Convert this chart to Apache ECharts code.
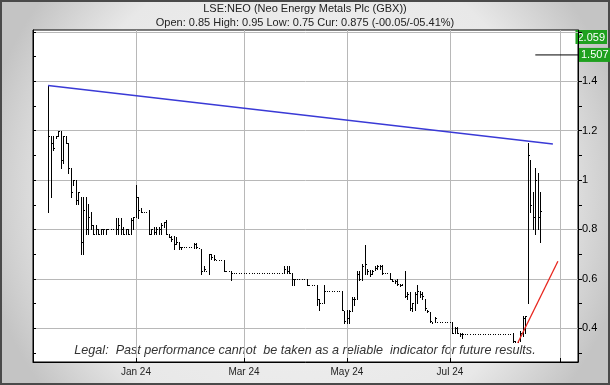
<!DOCTYPE html>
<html>
<head>
<meta charset="utf-8">
<script src="https://cdn.jsdelivr.net/npm/echarts@6/dist/echarts.min.js"></script>
<style>
html, body { margin: 0; padding: 0; background: #fff; }
#chart { width: 610px; height: 385px; }
</style>
</head>
<body>
<div id="chart"></div>
<script>
// trading days on the x axis (weekdays, UK holidays skipped)
const firstDay = '2023-11-01'
const dayCount = 218
const holidays = ['2023-12-25', '2023-12-26', '2024-01-01', '2024-03-29', '2024-04-01', '2024-05-06', '2024-05-27', '2024-08-26']
const monthNames = ['Jan', 'Feb', 'Mar', 'Apr', 'May', 'Jun', 'Jul', 'Aug', 'Sep', 'Oct', 'Nov', 'Dec']
const gridMonths = [1, 3, 5, 7, 9, 11]
const labelMonths = [1, 3, 5, 7]

// daily OHLC, first bar sits on trading day index 6
const firstBar = 6
const opens = [
  0.95, 1.10, 1.15, 1.18, 1.18, 1.20, 1.08, 1.18, 1.15, 1.05,
  0.98, 1.00, 0.92, 0.93, 0.75, 0.88, 0.80, 0.85, 0.82, 0.78,
  0.80, 0.78, 0.80, 0.80, 0.80, 0.80, 0.80, 0.80, 0.80, 0.82,
  0.80, 0.78, 0.80, 0.78, 0.84, 0.85, 0.93, 0.88, 0.87, 0.87,
  0.87, 0.78, 0.80, 0.79, 0.80, 0.80, 0.82, 0.83, 0.78, 0.77,
  0.76, 0.74, 0.75, 0.73, 0.73, 0.73, 0.73, 0.73, 0.73, 0.74,
  0.725, 0.72, 0.63, 0.63, 0.63, 0.70, 0.69, 0.675, 0.675, 0.675,
  0.675, 0.63, 0.63, 0.63, 0.625, 0.625, 0.625, 0.625, 0.625, 0.625,
  0.625, 0.625, 0.625, 0.625, 0.625, 0.625, 0.625, 0.625, 0.625, 0.625,
  0.625, 0.625, 0.625, 0.625, 0.625, 0.64, 0.63, 0.625, 0.60, 0.60,
  0.60, 0.60, 0.60, 0.60, 0.575, 0.575, 0.575, 0.575, 0.52, 0.50,
  0.50, 0.55, 0.55, 0.55, 0.55, 0.55, 0.55, 0.55, 0.47, 0.43,
  0.44, 0.47, 0.52, 0.52, 0.62, 0.60, 0.65, 0.64, 0.63, 0.62,
  0.635, 0.645, 0.65, 0.65, 0.625, 0.625, 0.625, 0.60, 0.59, 0.59,
  0.58, 0.575, 0.58, 0.53, 0.54, 0.48, 0.50, 0.54, 0.55, 0.54,
  0.52, 0.47, 0.465, 0.425, 0.43, 0.425, 0.425, 0.425, 0.425, 0.425,
  0.425, 0.425, 0.38, 0.40, 0.375, 0.375, 0.375, 0.375, 0.375, 0.375,
  0.375, 0.375, 0.375, 0.375, 0.375, 0.375, 0.375, 0.375, 0.375, 0.375,
  0.375, 0.375, 0.375, 0.375, 0.375, 0.375, 0.35, 0.345, 0.36, 0.38,
  0.44, 0.50, 1.05, 0.90, 0.85, 1.00, 0.85
]
const highs = [
  1.38, 1.18, 1.18, 1.18, 1.20, 1.20, 1.18, 1.18, 1.15, 1.05,
  1.00, 1.00, 0.95, 0.93, 0.93, 0.93, 0.905, 0.87, 0.82, 0.82,
  0.80, 0.80, 0.80, 0.80, 0.80, 0.80, 0.80, 0.845, 0.845, 0.845,
  0.81, 0.80, 0.80, 0.845, 0.85, 0.98, 0.93, 0.885, 0.87, 0.87,
  0.88, 0.80, 0.81, 0.81, 0.81, 0.825, 0.83, 0.84, 0.78, 0.775,
  0.775, 0.77, 0.75, 0.73, 0.73, 0.73, 0.73, 0.73, 0.745, 0.745,
  0.725, 0.72, 0.65, 0.63, 0.70, 0.70, 0.695, 0.675, 0.675, 0.675,
  0.675, 0.63, 0.63, 0.63, 0.625, 0.625, 0.625, 0.625, 0.625, 0.625,
  0.625, 0.625, 0.625, 0.625, 0.625, 0.625, 0.625, 0.625, 0.625, 0.625,
  0.625, 0.625, 0.625, 0.625, 0.65, 0.65, 0.65, 0.625, 0.60, 0.60,
  0.60, 0.60, 0.60, 0.60, 0.575, 0.575, 0.575, 0.575, 0.52, 0.50,
  0.575, 0.55, 0.55, 0.55, 0.55, 0.55, 0.55, 0.55, 0.47, 0.475,
  0.475, 0.525, 0.525, 0.63, 0.63, 0.66, 0.735, 0.64, 0.635, 0.635,
  0.65, 0.655, 0.655, 0.655, 0.625, 0.625, 0.625, 0.60, 0.595, 0.60,
  0.58, 0.58, 0.63, 0.545, 0.545, 0.50, 0.545, 0.575, 0.55, 0.545,
  0.52, 0.475, 0.465, 0.425, 0.445, 0.425, 0.425, 0.425, 0.425, 0.425,
  0.425, 0.425, 0.405, 0.405, 0.38, 0.38, 0.375, 0.375, 0.375, 0.375,
  0.375, 0.375, 0.375, 0.375, 0.375, 0.375, 0.375, 0.375, 0.375, 0.375,
  0.375, 0.375, 0.375, 0.375, 0.375, 0.38, 0.35, 0.35, 0.39, 0.45,
  0.45, 1.15, 1.08, 0.95, 1.05, 1.03, 0.95
]
const lows = [
  0.87, 0.93, 1.12, 1.17, 1.18, 1.05, 1.07, 1.15, 1.03, 0.93,
  0.98, 0.905, 0.905, 0.70, 0.70, 0.78, 0.78, 0.80, 0.78, 0.78,
  0.78, 0.78, 0.78, 0.78, 0.80, 0.80, 0.80, 0.78, 0.78, 0.78,
  0.78, 0.78, 0.78, 0.78, 0.80, 0.85, 0.845, 0.87, 0.87, 0.87,
  0.78, 0.78, 0.78, 0.78, 0.78, 0.78, 0.81, 0.78, 0.77, 0.755,
  0.72, 0.74, 0.72, 0.72, 0.73, 0.73, 0.73, 0.73, 0.725, 0.725,
  0.725, 0.62, 0.63, 0.63, 0.62, 0.68, 0.675, 0.675, 0.675, 0.675,
  0.63, 0.63, 0.63, 0.595, 0.625, 0.625, 0.625, 0.625, 0.625, 0.625,
  0.625, 0.625, 0.625, 0.625, 0.625, 0.625, 0.625, 0.625, 0.625, 0.625,
  0.625, 0.625, 0.625, 0.625, 0.625, 0.625, 0.625, 0.575, 0.575, 0.60,
  0.60, 0.60, 0.60, 0.575, 0.575, 0.575, 0.575, 0.495, 0.475, 0.50,
  0.50, 0.55, 0.55, 0.55, 0.55, 0.55, 0.55, 0.475, 0.42, 0.42,
  0.42, 0.47, 0.495, 0.52, 0.595, 0.595, 0.62, 0.62, 0.61, 0.62,
  0.635, 0.64, 0.64, 0.62, 0.625, 0.625, 0.60, 0.59, 0.585, 0.575,
  0.57, 0.575, 0.525, 0.52, 0.475, 0.47, 0.475, 0.50, 0.525, 0.52,
  0.475, 0.465, 0.425, 0.42, 0.425, 0.425, 0.425, 0.425, 0.425, 0.425,
  0.425, 0.38, 0.38, 0.38, 0.37, 0.36, 0.375, 0.375, 0.375, 0.375,
  0.375, 0.375, 0.375, 0.375, 0.375, 0.375, 0.375, 0.375, 0.375, 0.375,
  0.375, 0.375, 0.375, 0.375, 0.375, 0.345, 0.345, 0.345, 0.35, 0.37,
  0.38, 0.50, 0.87, 0.80, 0.78, 0.80, 0.75
]
const closes = [
  1.18, 1.15, 1.13, 1.18, 1.20, 1.08, 1.18, 1.15, 1.05, 0.95,
  1.00, 0.92, 0.95, 0.75, 0.88, 0.80, 0.85, 0.82, 0.78, 0.80,
  0.78, 0.80, 0.80, 0.80, 0.80, 0.80, 0.80, 0.80, 0.82, 0.80,
  0.78, 0.80, 0.78, 0.84, 0.85, 0.93, 0.88, 0.87, 0.87, 0.87,
  0.78, 0.80, 0.79, 0.80, 0.80, 0.82, 0.83, 0.78, 0.77, 0.76,
  0.74, 0.75, 0.73, 0.73, 0.73, 0.73, 0.73, 0.73, 0.74, 0.73,
  0.725, 0.63, 0.64, 0.63, 0.70, 0.69, 0.68, 0.675, 0.675, 0.675,
  0.63, 0.63, 0.63, 0.625, 0.625, 0.625, 0.625, 0.625, 0.625, 0.625,
  0.625, 0.625, 0.625, 0.625, 0.625, 0.625, 0.625, 0.625, 0.625, 0.625,
  0.625, 0.625, 0.625, 0.625, 0.64, 0.63, 0.625, 0.60, 0.60, 0.60,
  0.60, 0.60, 0.60, 0.575, 0.575, 0.575, 0.575, 0.52, 0.50, 0.50,
  0.55, 0.55, 0.55, 0.55, 0.55, 0.55, 0.55, 0.475, 0.43, 0.44,
  0.47, 0.52, 0.52, 0.62, 0.60, 0.65, 0.66, 0.63, 0.62, 0.63,
  0.645, 0.65, 0.65, 0.625, 0.625, 0.625, 0.60, 0.59, 0.59, 0.58,
  0.575, 0.58, 0.53, 0.54, 0.48, 0.50, 0.54, 0.55, 0.54, 0.53,
  0.48, 0.47, 0.43, 0.42, 0.44, 0.425, 0.425, 0.425, 0.425, 0.425,
  0.425, 0.38, 0.40, 0.38, 0.375, 0.375, 0.375, 0.375, 0.375, 0.375,
  0.375, 0.375, 0.375, 0.375, 0.375, 0.375, 0.375, 0.375, 0.375, 0.375,
  0.375, 0.375, 0.375, 0.375, 0.375, 0.35, 0.345, 0.35, 0.38, 0.44,
  0.45, 1.10, 0.90, 0.85, 1.00, 0.85, 0.875
]

// drawn lines and markers: [day index, price]
const trendDown = [[6, 1.383], [207, 1.146]]
const trendUp = [[193, 0.34], [209, 0.671]]
const target1 = [[200, 1.507], [217, 1.507]]
const target2 = 2.059
const lastPrice = 0.875

const yMin = 0.263
const yMax = 1.608
const yTicks = [0.3, 0.4, 0.5, 0.6, 0.7, 0.8, 0.9, 1, 1.1, 1.2, 1.3, 1.4, 1.5, 1.6]
const yLabels = [0.4, 0.6, 0.8, 1, 1.2, 1.4]

const days = []
const d = new Date(firstDay + 'T00:00:00Z')
while (days.length < dayCount) {
  const s = d.toISOString().slice(0, 10)
  const wd = d.getUTCDay()
  if (wd !== 0 && wd !== 6 && holidays.indexOf(s) < 0) days.push(s)
  d.setUTCDate(d.getUTCDate() + 1)
}

function monthStart(i) {
  return i === 0 || days[i].slice(0, 7) !== days[i - 1].slice(0, 7)
}
function monthOf(i) {
  return +days[i].slice(5, 7)
}
const isGrid = (i) => monthStart(i) && gridMonths.indexOf(monthOf(i)) >= 0
const isLabel = (i) => monthStart(i) && labelMonths.indexOf(monthOf(i)) >= 0

const bars = closes.map((c, i) => [firstBar + i, opens[i], highs[i], lows[i], c])

// hi-lo stick with a close tick; a day with no range is a single dot
function renderBar(params, api) {
  const x = Math.round(api.coord([api.value(0), 0])[0])
  const yh = Math.round(api.coord([0, api.value(2)])[1])
  const yl = Math.round(api.coord([0, api.value(3)])[1])
  const yc = Math.round(api.coord([0, api.value(4)])[1])
  const style = { fill: '#000' }
  const children = [
    { type: 'rect', shape: { x: x, y: yh, width: 1, height: yl - yh + 1 }, style: style }
  ]
  if (yl - yh > 1) {
    children.push({ type: 'rect', shape: { x: x + 1, y: yc, width: 1, height: 1 }, style: style })
  }
  return { type: 'group', children: children }
}

const font = '"Liberation Sans", Arial, sans-serif'
const chart = echarts.init(document.getElementById('chart'))

chart.setOption({
  animation: false,
  backgroundColor: {
    type: 'radial', x: 0.5, y: 0.5, r: 0.85,
    colorStops: [{ offset: 0, color: '#f4f4f4' }, { offset: 0.75, color: '#e8e8e8' }, { offset: 1, color: '#c4c4c4' }]
  },
  textStyle: { fontFamily: font },
  title: [
    {
      text: 'LSE:NEO (Neo Energy Metals Plc (GBX))',
      left: 'center', top: 3, padding: 0,
      textStyle: { fontSize: 11, fontWeight: 'normal', color: '#222', fontFamily: font }
    },
    {
      text: 'Open: 0.85 High: 0.95 Low: 0.75 Cur: 0.875 (-00.05/-05.41%)',
      left: 'center', top: 17, padding: 0,
      textStyle: { fontSize: 11, fontWeight: 'normal', color: '#222', fontFamily: font }
    }
  ],
  grid: {
    left: 33, right: 32, top: 30, bottom: 23,
    show: true, backgroundColor: '#fff', borderColor: '#000', borderWidth: 1
  },
  xAxis: {
    type: 'category',
    data: days,
    boundaryGap: false,
    axisLine: { lineStyle: { color: '#000' } },
    axisTick: { inside: true, length: 4, interval: isGrid, lineStyle: { color: '#000' } },
    axisLabel: {
      interval: isLabel,
      formatter: (v) => monthNames[+v.slice(5, 7) - 1] + ' ' + v.slice(2, 4),
      fontSize: 10, color: '#222', margin: 5
    },
    splitLine: { show: true, interval: isGrid, lineStyle: { color: '#b8b8b8' } }
  },
  yAxis: [
    {
      type: 'value', position: 'right', min: yMin, max: yMax,
      axisLine: { show: true, lineStyle: { color: '#000' } },
      axisTick: { show: true, length: 4, customValues: yTicks, lineStyle: { color: '#000' } },
      axisLabel: { customValues: yLabels, fontSize: 11, color: '#000', margin: 4, formatter: (v) => String(v) },
      splitLine: { show: true, lineStyle: { color: ['rgba(0,0,0,0)', '#b8b8b8'] } }
    },
    {
      type: 'value', position: 'left', min: yMin, max: yMax,
      axisLine: { show: true, lineStyle: { color: '#000' } },
      axisTick: { show: true, inside: true, length: 3, customValues: yTicks, lineStyle: { color: '#000' } },
      axisLabel: { show: false },
      splitLine: { show: false }
    }
  ],
  series: [
    {
      type: 'custom',
      renderItem: renderBar,
      encode: { x: 0, y: [1, 2, 3, 4] },
      data: bars,
      z: 3,
      markLine: {
        silent: true, symbol: 'none',
        lineStyle: { opacity: 0 },
        label: {
          position: 'end', distance: 1, formatter: String(lastPrice),
          backgroundColor: '#000', color: '#fff', fontSize: 11, padding: [2, 2, 1, 2]
        },
        data: [{ yAxis: lastPrice }]
      }
    },
    {
      type: 'line', data: trendDown, symbol: 'none', silent: true, z: 4,
      lineStyle: { color: '#3a3ad6', width: 1.5 }
    },
    {
      type: 'line', data: trendUp, symbol: 'none', silent: true, z: 4,
      lineStyle: { color: '#e8261e', width: 1.3 }
    },
    {
      type: 'line', data: target1, symbol: 'none', silent: true, z: 4,
      lineStyle: { color: '#000', width: 1 },
      endLabel: {
        show: true, distance: 1, formatter: '1.507',
        backgroundColor: '#1ea01e', color: '#fff', fontSize: 11, padding: [2, 2, 1, 2]
      }
    }
  ],
  graphic: [
    {
      type: 'text', right: 3, top: 30,
      style: {
        text: String(target2), fill: '#fff', font: '11px ' + font,
        backgroundColor: '#1ea01e', padding: [2, 2, 1, 2]
      }
    },
    {
      type: 'text', left: 'center', top: 344,
      style: { text: 'Legal:  Past performance cannot  be taken as a reliable  indicator for future results.', fill: '#333', font: 'italic 12.6px ' + font }
    },
    {
      type: 'rect', shape: { x: 1, y: 1, width: 608, height: 383 },
      style: { fill: null, stroke: '#4a4a4a', lineWidth: 2 }
    }
  ]
})
</script>
</body>
</html>
